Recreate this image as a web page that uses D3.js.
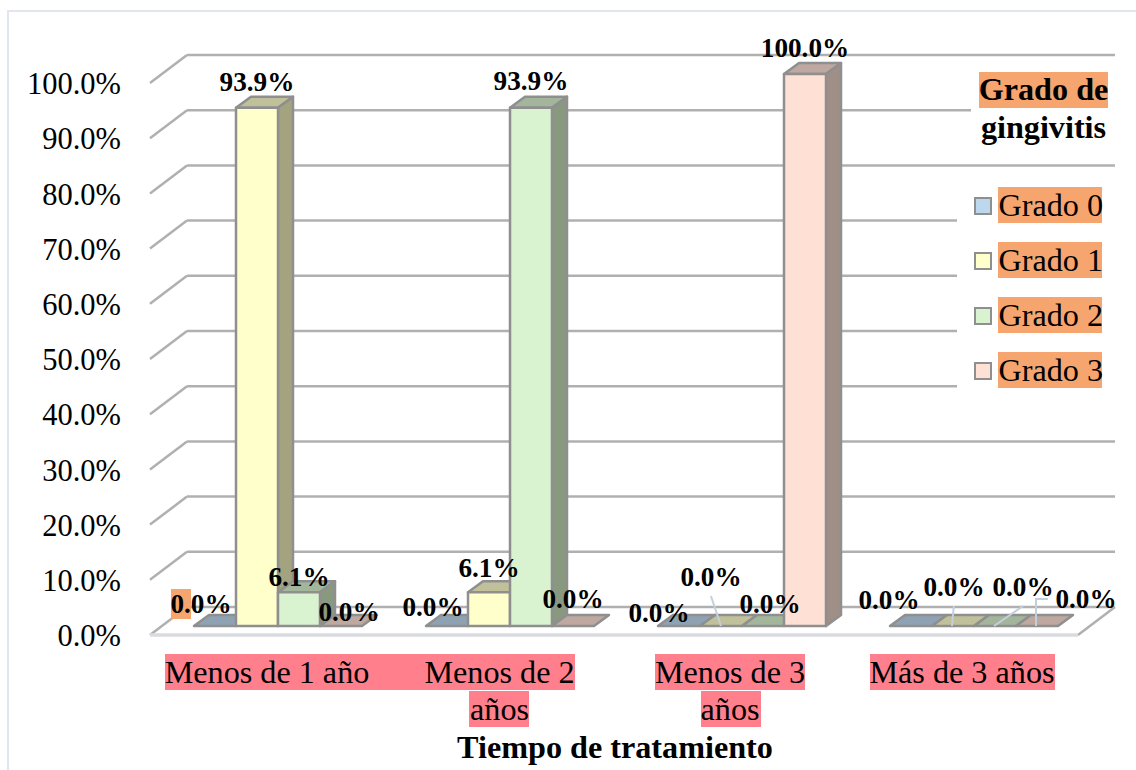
<!DOCTYPE html>
<html>
<head>
<meta charset="utf-8">
<script src="https://d3js.org/d3.v7.min.js"></script>
<style>
  html, body { margin: 0; padding: 0; background: #fff; overflow: hidden; }
  text { font-family: "Liberation Serif", serif; fill: #000; }
</style>
</head>
<body>
<div id="chart"></div>
<script>
const categories = ['Menos de 1 año', 'Menos de 2 años', 'Menos de 3 años', 'Más de 3 años'];
const categoryLines = [['Menos de 1 año'], ['Menos de 2', 'años'], ['Menos de 3', 'años'], ['Más de 3 años']];
const seriesNames = ['Grado 0', 'Grado 1', 'Grado 2', 'Grado 3'];
const grado0 = [0, 0, 0, 0];
const grado1 = [93.9, 6.1, 0, 0];
const grado2 = [6.1, 93.9, 0, 0];
const grado3 = [0, 0, 100, 0];
const seriesValues = [grado0, grado1, grado2, grado3];
const yTicks = [0, 10, 20, 30, 40, 50, 60, 70, 80, 90, 100];
const frontColors = ['#bdd7ee', '#ffffcc', '#d9f2d0', '#ffe0d5'];
const topColors = ['#8ea2b3', '#c0c09a', '#a3b69c', '#bfa8a0'];
const sideColors = ['#7d8e9e', '#a3a37f', '#88997f', '#a08f87'];

const width = 1136, height = 770;
const depth = { x: 37, y: -28 };      // back wall offset
const barDepth = { x: 15, y: -11 };   // depth of one bar
const barInset = { x: 12, y: -9 };    // bars sit a bit behind the front edge
const gridColor = '#b0b0b0', edgeColor = '#8f8f8f';
const pink = '#ff808c', orange = '#f7a56f';
const textSize = 32.2, tickSize = 30.5, labelSize = 27.2;

const svg = d3.select('#chart').append('svg')
  .attr('width', width).attr('height', height).style('display', 'block');

// only the top and left border of the frame are inside the picture
svg.append('rect').attr('x', 8).attr('y', 11).attr('width', 1200).attr('height', 800)
  .attr('fill', '#fff').attr('stroke', '#e2e6ee').attr('stroke-width', 2);

const x = d3.scaleBand().domain(categories).range([150, 1078]);
const xSeries = d3.scaleBand().domain(seriesNames).range([32, 200]);
const y = d3.scaleLinear().domain([0, 100]).range([635, 83]);

// walls: gridlines on the back, short diagonals on the left side
const [x0, x1] = x.range();
yTicks.forEach(t => {
  svg.append('line').attr('x1', x0).attr('y1', y(t)).attr('x2', x0 + depth.x).attr('y2', y(t) + depth.y)
    .attr('stroke', gridColor).attr('stroke-width', 2.5);
  svg.append('line').attr('x1', x0 + depth.x).attr('y1', y(t) + depth.y).attr('x2', x1 + depth.x).attr('y2', y(t) + depth.y)
    .attr('stroke', gridColor).attr('stroke-width', 2.5);
});
// floor
svg.append('line').attr('x1', x1).attr('y1', y(0)).attr('x2', x1 + depth.x).attr('y2', y(0) + depth.y)
  .attr('stroke', gridColor).attr('stroke-width', 2.5);
svg.append('line').attr('x1', x0).attr('y1', y(0)).attr('x2', x1).attr('y2', y(0))
  .attr('stroke', '#dadbe0').attr('stroke-width', 3.5);

// y axis labels
const yAxis = d3.axisLeft(y).tickValues(yTicks).tickSize(0).tickPadding(29)
  .tickFormat(d => d.toFixed(1) + '%');
svg.append('g').attr('transform', `translate(${x0},1)`).call(yAxis)
  .call(g => g.select('.domain').remove())
  .selectAll('text').style('font-family', '"Liberation Serif", serif').style('font-size', tickSize + 'px').attr('fill', '#000');

// white panels behind the legend and its title
svg.append('rect').attr('x', 971).attr('y', 70).attr('width', 150).attr('height', 85).attr('fill', '#fff');
svg.append('rect').attr('x', 957).attr('y', 175).attr('width', 164).attr('height', 225).attr('fill', '#fff');

// left to right keeps the overlap between bars right
const bars = [];
categories.forEach((c, ci) => seriesNames.forEach((s, si) => {
  bars.push({ c, s, si, value: seriesValues[si][ci] });
}));
const barG = svg.append('g').selectAll('g').data(bars).join('g')
  .attr('stroke', edgeColor).attr('stroke-width', 2.5).attr('stroke-linejoin', 'round');
const bw = xSeries.bandwidth();
const left = d => x(d.c) + xSeries(d.s) + barInset.x;
const yTop = d => y(d.value) + barInset.y;
const yBase = y(0) + barInset.y;
barG.append('path').attr('fill', d => topColors[d.si])
  .attr('d', d => `M${left(d)},${yTop(d)}l${barDepth.x},${barDepth.y}h${bw}l${-barDepth.x},${-barDepth.y}Z`);
barG.filter(d => d.value > 0).append('path').attr('fill', d => sideColors[d.si])
  .attr('d', d => `M${left(d) + bw},${yTop(d)}l${barDepth.x},${barDepth.y}V${yBase + barDepth.y}l${-barDepth.x},${-barDepth.y}Z`);
barG.filter(d => d.value > 0).append('rect').attr('fill', d => frontColors[d.si])
  .attr('x', left).attr('y', yTop).attr('width', bw).attr('height', d => yBase - yTop(d));

// leader lines for the moved zero labels
const leaderSeries = [
  [2, 'Grado 1', [[0.5, 0], [0.26, -30]]],
  [3, 'Grado 1', [[0.476, 0], [0.52, -20]]],
  [3, 'Grado 2', [[0.476, 0], [1.17, -20]]],
  [3, 'Grado 3', [[0.476, 0], [0.476, -27], [0.76, -27]]]
];
leaderSeries.forEach(([ci, s, pts]) => {
  const cx = x(categories[ci]) + xSeries(s) + barInset.x;
  svg.append('path').attr('fill', 'none').attr('stroke', '#c3cfdd').attr('stroke-width', 2)
    .attr('d', d3.line()(pts.map(p => [cx + p[0] * bw, yBase + p[1]])));
});

// data labels, moved by hand in the original chart
const labelPos = [
  [201, 613], [257, 91], [299, 586], [349, 621],
  [433, 616], [489, 577], [531, 90], [573, 608],
  [659, 622], [711, 586], [770, 613], [805, 57],
  [889, 609], [954, 596], [1023, 596], [1086, 608]
];
svg.append('rect').attr('x', 171).attr('y', 589).attr('width', 20).attr('height', 30).attr('fill', orange);
svg.append('g').selectAll('text').data(bars).join('text')
  .attr('x', (d, i) => labelPos[i][0]).attr('y', (d, i) => labelPos[i][1])
  .attr('text-anchor', 'middle').attr('font-weight', 'bold').attr('font-size', labelSize)
  .text(d => d.value.toFixed(1) + '%');

// category labels with their pink highlight
const catBoxes = [[[165, 654, 410, 36]], [[425, 654, 150, 36], [469, 691, 60, 36]],
  [[655, 654, 150, 36], [701, 691, 60, 36]], [[870, 654, 185, 36]]];
catBoxes.flat().forEach(b => {
  svg.append('rect').attr('x', b[0]).attr('y', b[1]).attr('width', b[2]).attr('height', b[3]).attr('fill', pink);
});
categoryLines.forEach((lines, ci) => {
  const cx = [267, 499.5, 730, 962][ci];
  lines.forEach((line, li) => {
    svg.append('text').attr('x', cx).attr('y', 683 + li * 37).attr('text-anchor', 'middle')
      .attr('font-size', textSize).text(line);
  });
});

svg.append('text').attr('x', 615).attr('y', 758).attr('text-anchor', 'middle')
  .attr('font-weight', 'bold').attr('font-size', textSize).text('Tiempo de tratamiento');

// legend
svg.append('rect').attr('x', 979).attr('y', 72).attr('width', 129).attr('height', 36).attr('fill', orange);
svg.append('text').attr('x', 1043.5).attr('y', 100).attr('text-anchor', 'middle')
  .attr('font-weight', 'bold').attr('font-size', textSize).text('Grado de');
svg.append('text').attr('x', 1043.5).attr('y', 138).attr('text-anchor', 'middle')
  .attr('font-weight', 'bold').attr('font-size', textSize).text('gingivitis');

const legendY = d3.scalePoint().domain(seriesNames).range([205, 370]);
const legend = svg.append('g').selectAll('g').data(seriesNames).join('g');
legend.append('rect').attr('x', 998).attr('y', d => legendY(d) - 18).attr('width', 104).attr('height', 36).attr('fill', orange);
legend.append('rect').attr('x', 975).attr('y', d => legendY(d) - 7).attr('width', 16).attr('height', 16)
  .attr('fill', (d, i) => frontColors[i]).attr('stroke', edgeColor).attr('stroke-width', 2);
legend.append('text').attr('x', 998.5).attr('y', d => legendY(d) + 11).attr('font-size', textSize).text(d => d);
</script>
</body>
</html>
